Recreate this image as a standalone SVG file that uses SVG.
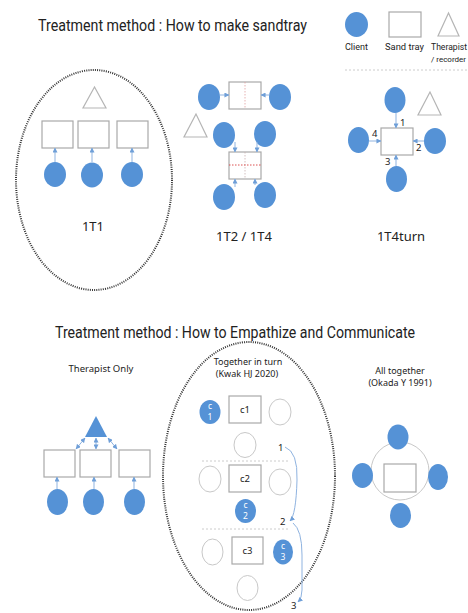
<svg xmlns="http://www.w3.org/2000/svg" width="468" height="613" viewBox="0 0 468 613">
<defs>
<marker id="ah" viewBox="0 0 6 6" refX="5.5" refY="3" markerWidth="5" markerHeight="5" markerUnits="userSpaceOnUse" orient="auto-start-reverse">
<path d="M0,0 L6,3 L0,6 z" fill="#6f9fd8"/>
</marker>
</defs>
<style>
text{font-family:"Noto Sans","Liberation Sans",Arial,sans-serif;fill:#222}
.title{font-family:Roboto,"Noto Sans",sans-serif;font-size:17px}
.title2{font-family:Roboto,"Noto Sans",sans-serif;font-size:16px}
.lbl{font-size:9.5px}
.sm{font-size:9px}
.leg{font-family:Roboto,"Noto Sans",sans-serif;font-size:9px}
.leg2{font-family:Roboto,"Noto Sans",sans-serif;font-size:8px}
.big{font-size:13px}
.cl{fill:#5592d6}
.oc{fill:#fff;stroke:#c8c8c8;stroke-width:1}
.tray{fill:#fff;stroke:#a9a9a9;stroke-width:1.2}
.tri{fill:#fff;stroke:#b5b5b5;stroke-width:1.2}
.dots{fill:none;stroke:#333;stroke-width:2;stroke-dasharray:1 1.2}
.con{fill:none;stroke:#8fb3e0;stroke-width:1;marker-end:url(#ah)}
.con2{fill:none;stroke:#8fb3e0;stroke-width:1;marker-end:url(#ah);marker-start:url(#ah)}
.sep{stroke:#ccc;stroke-width:1;stroke-dasharray:2 2}
.wt{fill:#fff;font-size:8.5px}
</style>

<text class="title" x="38" y="31" textLength="269" lengthAdjust="spacingAndGlyphs">Treatment method : How to make sandtray</text>
<text class="title2" x="55" y="338" textLength="360" lengthAdjust="spacingAndGlyphs">Treatment method : How to Empathize and Communicate</text>

<g id="legend">
<ellipse class="cl" cx="356.5" cy="24.5" rx="11.5" ry="12.5"/>
<rect class="tray" x="389" y="12" width="32" height="25"/>
<polygon class="tri" points="448.5,13 438,36 459,36"/>
<text class="leg" x="345" y="50">Client</text>
<text class="leg" x="385" y="50" textLength="39" lengthAdjust="spacingAndGlyphs">Sand tray</text>
<text class="leg" x="431" y="50" textLength="36" lengthAdjust="spacingAndGlyphs">Therapist</text>
<text class="leg2" x="431" y="62">/ recorder</text>
<line class="sep" x1="345" y1="70" x2="468" y2="70"/>
</g>

<g id="g1T1">
<ellipse class="dots" cx="94" cy="180" rx="78" ry="110"/>
<polygon class="tri" points="94.5,87 83,108 106,108"/>
<rect class="tray" x="42" y="121" width="31" height="27"/>
<rect class="tray" x="78" y="121" width="31" height="27"/>
<rect class="tray" x="117" y="121" width="31" height="27"/>
<ellipse class="cl" cx="55" cy="174.5" rx="11" ry="12.5"/>
<ellipse class="cl" cx="92" cy="175" rx="11" ry="12.5"/>
<ellipse class="cl" cx="132" cy="174.5" rx="11" ry="12.5"/>
<text class="big" x="93" y="231" text-anchor="middle">1T1</text>
</g>

<g id="g1T2">
<ellipse class="cl" cx="209" cy="97" rx="11" ry="13"/>
<ellipse class="cl" cx="280" cy="97" rx="11" ry="13"/>
<rect class="tray" x="229" y="82" width="32" height="27"/>
<line x1="245" y1="82" x2="245" y2="109" stroke="#e0a0a0" stroke-width="0.8" stroke-dasharray="1.5 1.5"/>
<polygon class="tri" points="196,114 184,137 207,137"/>
<ellipse class="cl" cx="224" cy="135" rx="11" ry="13"/>
<ellipse class="cl" cx="265" cy="134" rx="11" ry="13"/>
<rect class="tray" x="229" y="152" width="32" height="27"/>
<line x1="245" y1="152" x2="245" y2="179" stroke="#c8b0b0" stroke-width="0.8" stroke-dasharray="1.5 1.5"/>
<line x1="229" y1="165" x2="261" y2="165" stroke="#d84040" stroke-width="0.9" stroke-dasharray="1.5 1.5"/>
<ellipse class="cl" cx="224" cy="197" rx="11" ry="13"/>
<ellipse class="cl" cx="265" cy="195" rx="11" ry="13"/>
<text class="big" x="244" y="241" text-anchor="middle">1T2 / 1T4</text>
</g>

<g id="g1T4turn">
<ellipse class="cl" cx="395" cy="100" rx="10.5" ry="13"/>
<polygon class="tri" points="430,92 418,115 441,115"/>
<rect class="tray" x="381" y="128" width="32" height="27"/>
<ellipse class="cl" cx="358.5" cy="140" rx="10.5" ry="13"/>
<ellipse class="cl" cx="435" cy="141" rx="11" ry="13"/>
<ellipse class="cl" cx="396.5" cy="179" rx="10.5" ry="13"/>
<text class="lbl" x="400" y="126">1</text>
<text class="lbl" x="372" y="137">4</text>
<text class="lbl" x="416" y="151">2</text>
<text class="lbl" x="385" y="165">3</text>
<text class="big" x="401" y="241" text-anchor="middle">1T4turn</text>
</g>

<g id="therapistOnly">
<text class="lbl" x="101" y="372" text-anchor="middle">Therapist Only</text>
<polygon class="cl" points="96,416 85,437 107,437"/>
<rect class="tray" x="44" y="450" width="31" height="27"/>
<rect class="tray" x="80" y="450" width="31" height="27"/>
<rect class="tray" x="119" y="450" width="31" height="27"/>
<ellipse class="cl" cx="57.5" cy="502" rx="10.5" ry="13"/>
<ellipse class="cl" cx="93.5" cy="502" rx="10.5" ry="13"/>
<ellipse class="cl" cx="134.5" cy="502" rx="10.5" ry="13"/>
</g>

<g id="togetherInTurn">
<ellipse class="dots" cx="249" cy="476" rx="86" ry="134"/>
<text class="sm" x="248" y="365" text-anchor="middle">Together in turn</text>
<text class="sm" x="247" y="377" text-anchor="middle">(Kwak HJ 2020)</text>
<ellipse class="cl" cx="210" cy="412" rx="10.5" ry="12"/>
<text class="wt" x="210" y="409" text-anchor="middle">c</text>
<text class="wt" x="210" y="420" text-anchor="middle">1</text>
<rect class="tray" x="229" y="396" width="32" height="27"/>
<text class="lbl" x="245" y="413" text-anchor="middle">c1</text>
<ellipse class="oc" cx="280" cy="412" rx="11" ry="13"/>
<ellipse class="oc" cx="245" cy="445" rx="11" ry="12.5"/>
<text class="lbl" x="278" y="451">1</text>
<line class="sep" x1="202" y1="461" x2="290" y2="461"/>
<ellipse class="oc" cx="210" cy="479" rx="11" ry="13"/>
<rect class="tray" x="229" y="465" width="32" height="27"/>
<text class="lbl" x="245" y="482" text-anchor="middle">c2</text>
<ellipse class="oc" cx="280" cy="482" rx="11" ry="13"/>
<ellipse class="cl" cx="245.5" cy="511" rx="10.5" ry="12"/>
<text class="wt" x="245.5" y="508" text-anchor="middle">c</text>
<text class="wt" x="245.5" y="519" text-anchor="middle">2</text>
<text class="lbl" x="280" y="525">2</text>
<line class="sep" x1="202" y1="529" x2="290" y2="529"/>
<ellipse class="oc" cx="212.5" cy="552" rx="10.5" ry="13"/>
<rect class="tray" x="232" y="537" width="31" height="27"/>
<text class="lbl" x="247.5" y="554" text-anchor="middle">c3</text>
<ellipse class="cl" cx="283" cy="552" rx="10" ry="12.5"/>
<text class="wt" x="283" y="549" text-anchor="middle">c</text>
<text class="wt" x="283" y="560" text-anchor="middle">3</text>
<ellipse class="oc" cx="247.5" cy="588" rx="10.5" ry="12.5"/>
<text class="lbl" x="291" y="609">3</text>
</g>

<g id="allTogether">
<text class="sm" x="400" y="374" text-anchor="middle">All together</text>
<text class="sm" x="400" y="386" text-anchor="middle">(Okada Y 1991)</text>
<circle cx="400" cy="471" r="29" fill="none" stroke="#c8c8c8" stroke-width="1"/>
<rect class="tray" x="384" y="464" width="32" height="28"/>
<ellipse class="cl" cx="398" cy="437" rx="10.5" ry="12.5"/>
<ellipse class="cl" cx="362.5" cy="475.5" rx="10.5" ry="12.5"/>
<ellipse class="cl" cx="438" cy="477" rx="10" ry="13"/>
<ellipse class="cl" cx="400.5" cy="515.5" rx="10.5" ry="12.5"/>
</g>

<g id="connectors">
<line class="con" x1="55" y1="162" x2="55" y2="148"/>
<line class="con" x1="92" y1="162" x2="92" y2="148"/>
<line class="con" x1="132" y1="162" x2="132" y2="148"/>
<line class="con" x1="220" y1="95" x2="229" y2="95"/>
<line class="con" x1="269" y1="95" x2="261" y2="95"/>
<line class="con" x1="235" y1="142" x2="235" y2="152"/>
<line class="con" x1="257" y1="142" x2="257" y2="152"/>
<line class="con" x1="235" y1="187" x2="235" y2="179"/>
<line class="con" x1="255" y1="185" x2="255" y2="179"/>
<line class="con" x1="396" y1="113" x2="396" y2="128"/>
<line class="con" x1="369" y1="141" x2="381" y2="141"/>
<line class="con" x1="424" y1="141" x2="413" y2="141"/>
<line class="con" x1="396" y1="166" x2="396" y2="155"/>
<line class="con" x1="57" y1="489" x2="57" y2="477"/>
<line class="con" x1="94" y1="489" x2="94" y2="477"/>
<line class="con" x1="134" y1="489" x2="134" y2="477"/>
<line class="con2" x1="76" y1="449" x2="85" y2="438"/>
<line class="con2" x1="96" y1="449" x2="96" y2="438"/>
<line class="con2" x1="117" y1="449" x2="108" y2="438"/>
<path class="con" d="M285,447 Q298,452 297,480 Q296,515 290,521"/>
<path class="con" d="M293,523 Q302,530 302,555 L302,590 Q302,598 298,602"/>
</g>
</svg>
